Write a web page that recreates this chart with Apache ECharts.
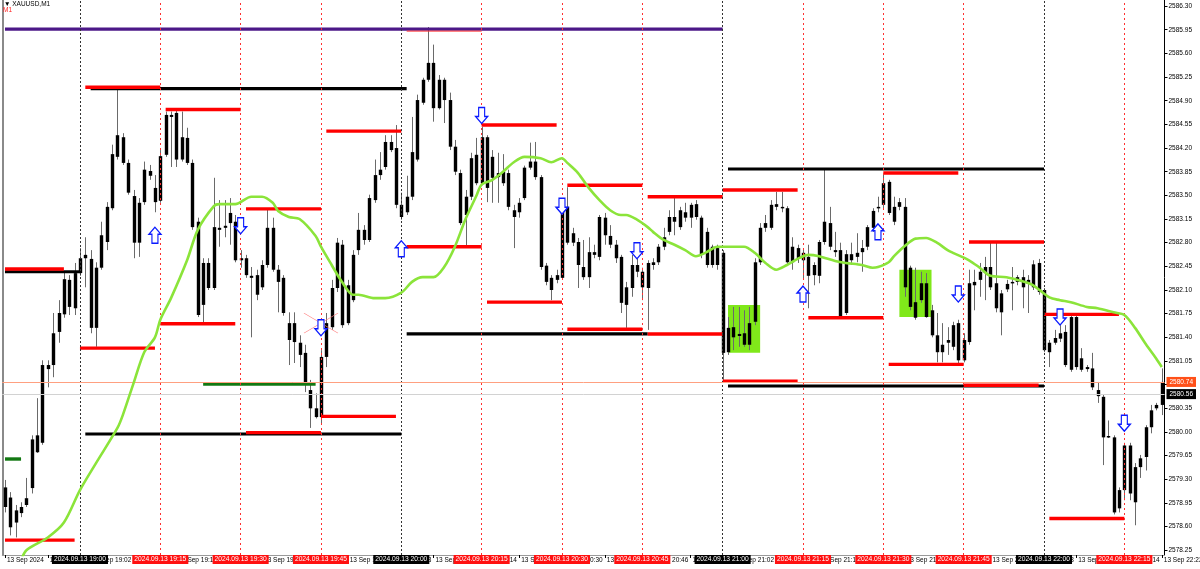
<!DOCTYPE html>
<html><head><meta charset="utf-8">
<script src="https://cdn.jsdelivr.net/npm/echarts/dist/echarts.min.js"></script>
<style>html,body{margin:0;padding:0;background:#fff}#c{width:1200px;height:569px}</style>
</head><body><div id="c"></div>
<script>
// ---- time axis: one-minute bars from 18:46 to 22:22, 13 Sep 2024 ----
const startMinute = 18 * 60 + 46;
const barCount = 217;
const categories = [];
for (let m = 0; m < barCount; m++) {
  const t = startMinute + m;
  categories.push(String(Math.floor(t / 60)).padStart(2, '0') + ':' + String(t % 60).padStart(2, '0'));
}
const datePrefix = '2024.09.13 ';
const firstLabel = '13 Sep 2024';

// ---- price axis ----
const yMin = 2578.18;
const yMax = 2586.39;
const yTicks = [2578.25,2578.60,2578.95,2579.30,2579.65,2580.00,2580.35,2580.70,2581.05,2581.40,2581.75,2582.10,
  2582.45,2582.80,2583.15,2583.50,2583.85,2584.20,2584.55,2584.90,2585.25,2585.60,2585.95,2586.30];

// ---- OHLC ----
const open = [2579.18,2579.03,2578.66,2578.80,2578.92,2579.17,2579.70,2579.84,2580.99,2580.99,
2581.48,2581.74,2582.25,2581.83,2582.35,2582.57,2582.56,2581.54,2582.43,2582.81,
2583.31,2584.07,2584.36,2583.98,2583.49,2582.80,2583.40,2583.86,2583.61,2583.42,
2584.10,2584.69,2584.03,2584.36,2583.98,2583.98,2583.11,2581.88,2582.50,2582.13,
2582.99,2583.02,2583.09,2583.11,2582.57,2582.57,2582.31,2582.32,2582.14,2582.47,
2583.02,2582.40,2582.28,2581.61,2581.33,2581.32,2581.17,2580.62,2580.35,2580.22,
2581.11,2581.55,2582.13,2582.77,2581.61,2581.95,2582.69,2582.99,2582.84,2583.43,
2583.80,2583.92,2584.29,2584.20,2583.36,2583.25,2583.48,2584.03,2584.87,2585.21,
2585.46,2584.79,2585.21,2584.91,2584.22,2583.83,2583.21,2583.48,2584.10,2583.68,
2584.36,2583.76,2583.77,2583.68,2583.83,2583.28,2583.25,2583.46,2583.91,2584.00,
2583.77,2582.46,2582.10,2582.25,2582.28,2583.33,2582.80,2582.81,2582.29,2582.29,
2582.62,2582.59,2583.17,2582.90,2582.77,2582.59,2581.88,2582.13,2582.47,2582.37,
2582.13,2582.47,2582.51,2582.74,2582.96,2583.11,2583.28,2583.17,2583.17,2583.37,
2583.17,2582.96,2582.47,2582.72,2582.65,2581.18,2581.55,2581.42,2581.29,2581.29,
2581.63,2582.51,2583.02,2583.02,2583.33,2583.33,2583.31,2582.51,2582.72,2582.65,
2582.59,2582.32,2582.31,2582.81,2583.09,2582.69,2582.69,2581.76,2582.63,2582.59,
2582.66,2582.74,2583.02,2583.31,2583.36,2583.70,2583.33,2583.33,2583.33,2581.85,
2581.92,2581.95,2582.20,2581.80,2581.43,2581.18,2581.32,2581.26,2581.61,2581.06,
2581.33,2582.17,2582.25,2582.35,2582.44,2582.20,2581.77,2582.11,2582.20,2582.22,
2582.29,2582.19,2582.14,2582.50,2582.10,2581.18,2581.32,2581.38,2581.48,2580.92,
2581.70,2581.09,2580.96,2580.94,2580.62,2580.52,2579.94,2579.92,2578.87,2579.14,
2579.80,2579.48,2579.48,2579.63,2580.07,2580.35,2580.40];
const close = [2578.89,2578.59,2578.84,2578.89,2579.02,2579.89,2579.95,2580.99,2580.93,2581.46,
2581.76,2582.26,2581.85,2582.35,2582.57,2582.62,2581.54,2582.43,2582.91,2583.33,
2584.11,2584.39,2583.98,2583.54,2582.80,2583.39,2583.88,2583.79,2583.40,2584.08,
2584.69,2584.66,2584.72,2584.03,2584.35,2583.03,2581.73,2582.50,2582.13,2583.03,
2583.02,2583.05,2583.24,2582.54,2582.54,2582.32,2582.28,2582.03,2582.47,2583.02,
2582.40,2582.22,2581.76,2581.36,2581.61,2581.14,2580.72,2580.35,2580.22,2581.11,
2581.61,2582.13,2582.80,2581.58,2582.17,2582.62,2582.99,2582.84,2583.46,2583.80,
2583.88,2584.29,2584.17,2583.36,2583.18,2583.48,2584.14,2584.91,2585.21,2585.46,
2584.79,2585.21,2584.91,2584.22,2583.85,2583.09,2583.48,2584.05,2583.68,2584.36,
2583.61,2584.07,2583.83,2583.85,2583.33,2583.18,2583.39,2583.91,2584.00,2583.77,
2582.44,2582.22,2582.28,2582.32,2583.39,2582.80,2582.94,2582.47,2582.44,2582.66,
2582.66,2583.18,2582.91,2582.77,2582.57,2581.91,2582.14,2582.47,2582.37,2582.14,
2582.50,2582.51,2582.74,2582.88,2583.18,2583.18,2583.03,2583.25,2583.36,2583.18,
2582.62,2582.47,2582.74,2582.47,2581.17,2581.54,2581.40,2581.45,2581.46,2581.61,
2582.51,2583.02,2583.09,2583.36,2583.37,2583.31,2582.51,2582.74,2582.57,2582.54,
2582.31,2582.47,2582.81,2583.11,2582.74,2582.66,2581.70,2582.63,2582.54,2582.65,
2582.72,2583.03,2583.27,2583.33,2583.68,2583.24,2583.11,2583.40,2582.14,2582.43,
2581.69,2582.20,2581.70,2581.43,2581.18,2581.29,2581.36,2581.58,2581.06,2581.36,
2582.20,2582.22,2582.37,2582.44,2582.14,2581.83,2582.05,2582.19,2582.22,2582.29,
2582.14,2582.25,2582.48,2582.07,2581.21,2581.32,2581.39,2581.46,2580.99,2581.70,
2580.96,2580.92,2580.93,2580.66,2580.53,2579.92,2579.92,2578.81,2579.14,2579.80,
2579.09,2578.96,2579.61,2580.07,2580.32,2580.40,2580.74];
const low = [2578.81,2578.47,2578.44,2578.74,2578.89,2579.09,2579.69,2579.81,2580.66,2580.81,
2581.32,2581.69,2581.73,2581.73,2582.31,2582.14,2581.46,2581.26,2582.40,2582.69,
2583.28,2584.03,2583.95,2583.51,2582.57,2582.59,2583.36,2583.73,2583.25,2583.39,
2584.07,2583.92,2583.92,2584.00,2583.95,2582.99,2581.70,2581.61,2582.10,2582.10,
2582.74,2582.88,2582.77,2582.51,2582.43,2582.28,2581.40,2581.95,2582.10,2582.43,
2582.37,2581.77,2581.72,2580.99,2581.02,2580.96,2580.59,2580.06,2580.20,2580.13,
2580.96,2581.51,2582.07,2581.54,2581.58,2581.92,2582.62,2582.77,2582.81,2583.39,
2583.73,2583.88,2584.14,2583.31,2583.14,2583.21,2583.43,2584.00,2584.84,2585.18,
2584.59,2584.77,2584.57,2584.17,2583.80,2583.06,2582.74,2583.43,2583.65,2583.65,
2583.40,2583.39,2583.39,2583.64,2583.28,2582.72,2583.17,2583.43,2583.88,2583.73,
2582.40,2582.17,2581.95,2582.20,2582.25,2582.77,2582.75,2582.13,2582.25,2582.13,
2582.57,2582.54,2582.77,2582.72,2582.50,2581.76,2581.54,2582.00,2582.29,2581.95,
2581.51,2582.40,2582.47,2582.69,2582.91,2582.91,2582.99,2583.11,2583.02,2583.14,
2582.57,2582.43,2582.43,2582.40,2580.77,2581.14,2581.21,2581.26,2581.26,2581.21,
2581.58,2582.47,2582.96,2582.99,2583.28,2583.25,2582.47,2582.40,2582.50,2582.25,
2581.83,2582.17,2582.20,2582.77,2582.69,2582.59,2581.69,2581.73,2582.47,2582.51,
2582.37,2582.69,2582.96,2583.25,2583.31,2583.21,2583.06,2583.28,2582.00,2581.80,
2581.66,2581.91,2581.69,2581.40,2581.03,2581.03,2581.14,2581.21,2581.02,2581.03,
2581.29,2581.80,2582.00,2581.95,2582.10,2581.77,2581.43,2582.07,2581.80,2582.17,
2581.83,2581.76,2582.10,2582.03,2581.18,2580.96,2581.29,2581.33,2580.96,2580.89,
2580.92,2580.89,2580.89,2580.62,2580.43,2579.51,2579.91,2578.78,2578.81,2578.99,
2578.99,2578.62,2579.32,2579.43,2579.98,2580.32,2580.25];
const high = [2579.29,2579.11,2578.92,2578.96,2579.32,2579.95,2580.50,2581.06,2581.06,2581.76,
2581.95,2582.37,2582.32,2582.50,2582.72,2582.88,2582.69,2582.51,2583.11,2583.40,
2584.25,2585.09,2584.42,2584.03,2583.58,2583.46,2584.00,2583.95,2583.80,2584.17,
2584.74,2584.74,2584.75,2584.74,2584.50,2584.03,2583.17,2582.57,2582.57,2583.76,
2583.43,2583.43,2583.46,2583.21,2582.69,2582.62,2582.44,2582.40,2582.54,2583.31,
2583.17,2582.47,2582.32,2581.77,2581.77,2581.43,2581.29,2580.77,2580.57,2581.21,
2581.76,2582.25,2582.87,2582.84,2582.25,2582.69,2583.24,2583.06,2583.51,2584.03,
2584.14,2584.39,2584.39,2584.54,2583.54,2583.79,2584.66,2584.99,2585.24,2585.99,
2585.73,2585.28,2585.24,2585.02,2584.32,2583.88,2583.58,2584.13,2584.35,2584.51,
2584.39,2584.17,2584.13,2584.11,2583.88,2583.36,2583.46,2583.94,2584.28,2584.29,
2583.80,2582.50,2582.32,2582.40,2583.43,2583.62,2583.02,2582.87,2582.84,2582.88,
2582.77,2583.21,2583.24,2583.06,2582.84,2582.62,2582.22,2582.62,2582.57,2582.43,
2582.54,2582.57,2582.78,2583.02,2583.28,2583.46,2583.33,2583.39,2583.39,2583.43,
2583.20,2583.02,2582.77,2582.77,2582.69,2581.70,2581.85,2581.85,2581.80,2581.85,
2582.57,2583.09,2583.21,2583.43,2583.55,2583.55,2583.34,2582.88,2582.77,2582.72,
2582.77,2582.51,2582.84,2583.89,2583.33,2582.96,2582.80,2582.69,2582.80,2582.94,
2582.84,2583.06,2583.31,2583.48,2583.83,2583.73,2583.48,2583.46,2583.46,2582.46,
2582.43,2582.37,2582.35,2581.88,2581.76,2581.61,2581.55,2581.63,2581.66,2581.46,
2582.40,2582.40,2582.50,2582.59,2582.80,2582.80,2582.10,2582.25,2582.44,2582.32,
2582.40,2582.32,2582.54,2582.56,2582.13,2581.36,2581.51,2581.58,2581.58,2581.73,
2581.73,2581.24,2580.99,2581.17,2580.74,2580.55,2580.17,2579.95,2579.18,2579.84,
2579.84,2579.54,2579.66,2580.10,2580.40,2580.43,2580.94];

// ---- moving average ----
const maIndex = [3,4,8,11,14,17,21,22,24,26,28,29,31,34,36,39,40,43,46,48,50,51,53,55,58,59,61,63,65,66,
69,71,74,76,78,80,82,84,86,88,89,91,93,95,97,100,102,104,105,107,109,111,113,115,116,118,120,121,123,125,
127,129,131,133,135,138,140,142,144,146,148,150,152,155,157,160,162,163,165,166,168,170,172,174,176,177,
180,182,184,187,190,192,195,197,199,202,204,207,209,211,213,215,216];
const maValue = [2578.10,2578.25,2578.44,2578.66,2579.14,2579.54,2580.06,2580.25,2580.72,2581.18,
2581.40,2581.66,2581.98,2582.54,2582.99,2583.34,2583.37,2583.37,2583.48,2583.48,
2583.39,2583.27,2583.18,2583.15,2582.90,2582.74,2582.47,2582.21,2582.03,2582.03,
2581.98,2581.98,2582.06,2582.22,2582.29,2582.29,2582.44,2582.74,2583.15,2583.49,
2583.66,2583.73,2583.85,2583.99,2584.07,2584.05,2583.99,2584.05,2583.98,2583.83,
2583.61,2583.43,2583.28,2583.21,2583.21,2583.14,2583.03,2582.96,2582.84,2582.77,
2582.69,2582.60,2582.66,2582.74,2582.74,2582.74,2582.65,2582.50,2582.40,2582.47,
2582.56,2582.62,2582.60,2582.53,2582.50,2582.47,2582.43,2582.44,2582.51,2582.60,
2582.75,2582.86,2582.87,2582.80,2582.69,2582.65,2582.54,2582.43,2582.31,2582.29,
2582.23,2582.17,2581.99,2581.95,2581.92,2581.85,2581.83,2581.77,2581.73,2581.54,
2581.30,2581.08,2580.96];

// ---- horizontal level segments: [startBar, endBar, price] ----
const redLevels = [[0,13,2578.40],[0,11,2582.41],[14,28,2581.24],[15,29,2585.10],[30,44,2584.77],[29,43,2581.60],
[45,59,2583.30],[60,74,2584.45],[75,89,2582.74],[45,59,2579.99],[59,73,2580.23],[89,103,2584.54],[90,104,2581.92],
[105,119,2583.65],[105,119,2581.52],[120,134,2583.48],[120,134,2581.45],[134,148,2583.58],[134,148,2580.75],
[150,164,2581.69],[164,178,2583.83],[165,179,2581.00],[180,194,2582.81],[179,193,2580.69],[194,208,2581.74],[195,209,2578.72]];
const redThinLevels = [[75,89,2585.93]];
const blackLevels = [[0,14,2582.37],[16,75,2585.08],[15,74,2579.97],[75,120,2581.45],[135,194,2580.68],[135,194,2583.89]];
const greenLevels = [[0,3,2579.60],[37,58,2580.71]];
const purpleLevels = [[0,134,2585.96]];

// ---- zones: [startBar, endBar, topPrice, bottomPrice] ----
const zones = [[135,141,2581.88,2581.17],[167,173,2582.40,2581.70]];

// ---- signal arrows: [bar, price] ----
const upArrows = [[28,2582.91],[74,2582.71],[149,2582.04],[163,2582.96]];
const downArrows = [[44,2583.05],[59,2581.54],[89,2584.68],[104,2583.34],[118,2582.68],[178,2582.04],[197,2581.70],[209,2580.13]];
const crossMarks = [[59,2581.61]];

// ---- separators (bar index) ----
const hourBars = [14,74,134,194];
const quarterBars = [29,44,59,89,104,119,149,164,179,209];

const bidPrice = 2580.74;
const askPrice = 2580.56;

const FONT = 'Liberation Sans';

const candleData = open.map((o, i) => [i, o, close[i], low[i], high[i]]);
const maData = maIndex.map((i, k) => [i, maValue[k]]);

function segSeries(list, color, width, z) {
  return {
    type: 'custom', z: z, silent: true, clip: true,
    encode: {x: [0, 1], y: 2},
    data: list,
    renderItem: (params, api) => {
      const a = api.coord([api.value(0), api.value(2)]);
      const b = api.coord([api.value(1), api.value(2)]);
      return {type: 'line', shape: {x1: a[0], y1: a[1], x2: b[0], y2: b[1]},
        style: {stroke: color, lineWidth: width, lineCap: 'butt'}};
    }
  };
}

const vLines = [];
hourBars.forEach(i => vLines.push({
  xAxis: categories[i], name: datePrefix + categories[i],
  lineStyle: {color: '#333', type: [2, 2], width: 1},
  label: {show: true, position: 'start', distance: 0, formatter: p => p.name, color: '#fff',
    backgroundColor: '#000', padding: [1, 2], fontSize: 6.7, fontFamily: FONT}
}));
quarterBars.forEach(i => vLines.push({
  xAxis: categories[i], name: datePrefix + categories[i],
  lineStyle: {color: '#ff3030', type: [2, 3], width: 1},
  label: {show: true, position: 'start', distance: 0, formatter: p => p.name, color: '#fff',
    backgroundColor: '#ff1010', padding: [1, 2], fontSize: 6.7, fontFamily: FONT}
}));
vLines.push({yAxis: bidPrice, lineStyle: {color: '#ffa080', type: 'solid', width: 1},
  label: {show: true, position: 'end', distance: 2, formatter: bidPrice.toFixed(2), color: '#fff',
    backgroundColor: '#ff5018', padding: [1.5, 3], fontSize: 6.5, fontFamily: FONT}});
vLines.push({yAxis: askPrice, lineStyle: {color: '#d2d2d2', type: 'solid', width: 1},
  label: {show: true, position: 'end', distance: 2, formatter: askPrice.toFixed(2), color: '#fff',
    backgroundColor: '#000', padding: [1.5, 3], fontSize: 6.5, fontFamily: FONT}});

const downPath = 'path://M3,0L9,0L9,9L12,9L6,16L0,9L3,9Z';
const upPath = 'path://M6,0L12,7L9,7L9,16L3,16L3,7L0,7Z';

const chart = echarts.init(document.getElementById('c'), null, {renderer: 'canvas'});
chart.setOption({
  animation: false,
  backgroundColor: '#fff',
  textStyle: {fontFamily: FONT},
  title: [
    {text: '\u25BC XAUUSD,M1', left: 4, top: 1, padding: 0, textStyle: {fontSize: 6.5, fontWeight: 'normal', color: '#000', fontFamily: FONT}},
    {text: 'M1', left: 3, top: 7, padding: 0, textStyle: {fontSize: 6.5, fontWeight: 'normal', color: '#ff2020', fontFamily: FONT}}
  ],
  grid: {left: 2.3, right: 35.5, top: 0, bottom: 14, containLabel: false, outerBoundsMode: 'none'},
  xAxis: {
    type: 'category', data: categories, boundaryGap: true,
    axisLine: {show: true, lineStyle: {color: '#9a9a9a', width: 1}},
    axisTick: {show: true, interval: 7, alignWithLabel: true, length: 3, lineStyle: {color: '#000'}},
    axisLabel: {interval: 7, align: 'left', margin: 2, padding: [0, 0, 0, 2], fontSize: 6.5, color: '#000', fontFamily: FONT,
      formatter: (v, idx) => idx === 0 ? firstLabel : '13 Sep ' + v},
    splitLine: {show: false}
  },
  yAxis: [{
    type: 'value', position: 'right', min: yMin, max: yMax,
    axisLine: {show: true, lineStyle: {color: '#000', width: 1}},
    axisTick: {show: true, length: 3, lineStyle: {color: '#000'}, customValues: yTicks},
    axisLabel: {customValues: yTicks, formatter: v => v.toFixed(2), fontSize: 6.5, color: '#000', margin: 4, fontFamily: FONT},
    splitLine: {show: false}
  }, {
    type: 'value', position: 'left', min: yMin, max: yMax,
    axisLine: {show: true, lineStyle: {color: '#8a8a8a', width: 2}},
    axisTick: {show: false}, axisLabel: {show: false}, splitLine: {show: false}
  }],
  series: [
    {
      type: 'custom', z: 1, silent: true,
      encode: {x: [0, 1], y: [2, 3]},
      data: zones,
      renderItem: (params, api) => {
        const a = api.coord([api.value(0), api.value(2)]);
        const b = api.coord([api.value(1), api.value(3)]);
        return {type: 'rect', shape: {x: a[0], y: a[1], width: b[0] - a[0], height: b[1] - a[1]},
          style: {fill: '#80e81a'}};
      }
    },
    {
      type: 'custom', z: 2, silent: true,
      encode: {x: 0, y: [1, 2, 3, 4]},
      data: candleData,
      renderItem: (params, api) => {
        const x = api.value(0);
        const pO = api.coord([x, api.value(1)]);
        const pC = api.coord([x, api.value(2)]);
        const pL = api.coord([x, api.value(3)]);
        const pH = api.coord([x, api.value(4)]);
        const w = 3.4;
        const top = Math.min(pO[1], pC[1]);
        const h = Math.max(Math.abs(pO[1] - pC[1]), 1.5);
        const cx = Math.round(pO[0]) + 0.5;
        return {type: 'group', children: [
          {type: 'line', shape: {x1: cx, y1: pH[1], x2: cx, y2: pL[1]}, style: {stroke: '#6a6a6a', lineWidth: 1}},
          {type: 'rect', shape: {x: cx - w / 2, y: top, width: w, height: h}, style: {fill: '#000'}}
        ]};
      }
    },
    segSeries(purpleLevels, '#4c1888', 3.2, 3),
    segSeries(redThinLevels, '#ff3030', 1, 3),
    segSeries(blackLevels, '#000', 3.2, 3),
    segSeries(redLevels, '#ff0000', 3.4, 4),
    segSeries(greenLevels, '#127812', 3.4, 4),
    {
      type: 'line', z: 5, data: maData, showSymbol: false, smooth: 0.3, connectNulls: true,
      lineStyle: {color: '#8be43a', width: 2.6}, silent: true, clip: true,
      markLine: {symbol: ['none', 'none'], silent: true, animation: false, data: vLines}
    },
    {
      type: 'scatter', z: 6, silent: true, data: upArrows, symbol: upPath, symbolSize: [12, 16],
      itemStyle: {color: '#ffffff', borderColor: '#0a1aff', borderWidth: 1.3, opacity: 1}
    },
    {
      type: 'scatter', z: 6, silent: true, data: downArrows, symbol: downPath, symbolSize: [12, 16],
      itemStyle: {color: '#ffffff', borderColor: '#0a1aff', borderWidth: 1.3, opacity: 1}
    },
    {
      type: 'scatter', z: 5, silent: true, data: crossMarks, symbol: 'path://M0,0L34,20M0,20L34,0', symbolSize: [34, 20],
      itemStyle: {color: 'rgba(0,0,0,0)', borderColor: '#ff8080', borderWidth: 0.8, opacity: 1}
    }
  ]
});
</script></body></html>
